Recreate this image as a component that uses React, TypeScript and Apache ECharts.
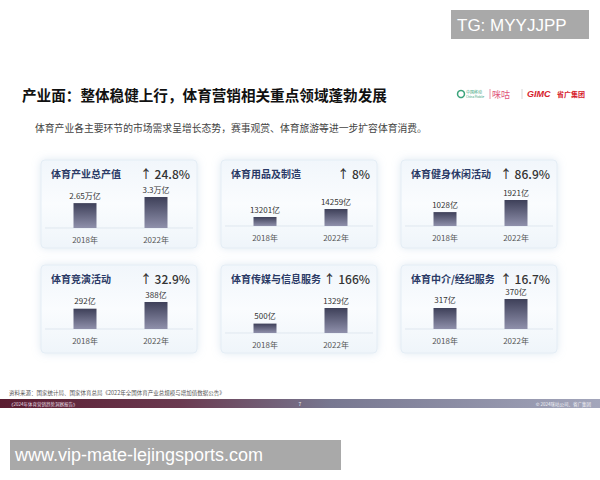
import React, { useEffect, useRef } from "react";
import * as echarts from "echarts";

const panelTitles = ["体育产业总产值", "体育用品及制造", "体育健身休闲活动", "体育竞演活动", "体育传媒与信息服务", "体育中介/经纪服务"];
const growthLabels = ["↑ 24.8%", "↑ 8%", "↑ 86.9%", "↑ 32.9%", "↑ 166%", "↑ 16.7%"];
const years = ["2018年", "2022年"];
const values2018 = [2.65, 13201, 1028, 292, 500, 317];
const values2022 = [3.3, 14259, 1921, 388, 1329, 370];
const units = ["万亿", "亿", "亿", "亿", "亿", "亿"];
const axisMin = [0, 12011, 0, 0, 0, 193];

const CJK = '"Noto Sans CJK SC", "Noto Sans", sans-serif';

export default function App() {
  const ref = useRef<HTMLDivElement>(null);
  useEffect(() => {
    document.body.style.margin = "0";
    const chart = echarts.init(ref.current!, null, { renderer: "svg" });
    const cardLeft = [41, 221, 401, 41, 221, 401];
    const cardTop = [160, 160, 160, 265, 265, 265];
    const baseline = [228, 226, 226, 329, 333, 329];
    const barH = [31, 17, 26, 27, 25, 30];
    const cardW = 156;
    const cardH = 88;

    const grids: any[] = [];
    const xAxes: any[] = [];
    const yAxes: any[] = [];
    const series: any[] = [];
    const graphics: any[] = [];

    for (let i = 0; i < 6; i++) {
      graphics.push({
        type: "rect",
        z: -10,
        shape: { x: cardLeft[i], y: cardTop[i], width: cardW, height: cardH, r: 4 },
        style: {
          fill: new echarts.graphic.LinearGradient(0, 0, 0, 1, [
            { offset: 0, color: "#f1f6fb" },
            { offset: 0.5, color: "#fafcfe" },
            { offset: 1, color: "#eff5fa" },
          ]),
          stroke: "#e4edf5",
          lineWidth: 1,
          shadowBlur: 8,
          shadowColor: "rgba(160,190,215,0.35)",
        },
      });
      graphics.push({
        type: "text",
        x: cardLeft[i] + 10,
        y: cardTop[i] + 13,
        style: { text: panelTitles[i], fill: "#2a3a66", font: `bold 10px ${CJK}`, textVerticalAlign: "middle" },
      });
      graphics.push({
        type: "text",
        x: cardLeft[i] + cardW - 7,
        y: cardTop[i] + 13,
        style: { text: growthLabels[i], fill: "#333", font: `500 12px ${CJK}`, textAlign: "right", textVerticalAlign: "middle" },
      });
      graphics.push({
        type: "line",
        shape: { x1: cardLeft[i] + 4, y1: baseline[i], x2: cardLeft[i] + cardW - 4, y2: baseline[i] },
        style: { stroke: "#dfe7ef", lineWidth: 1 },
      });

      grids.push({ left: cardLeft[i] + 8.5, width: 142, top: baseline[i] - barH[i], height: barH[i] });
      xAxes.push({
        type: "category",
        gridIndex: i,
        data: years,
        axisLine: { show: false },
        axisTick: { show: false },
        axisLabel: { color: "#555", fontSize: 8, margin: 7, fontFamily: CJK },
      });
      yAxes.push({ type: "value", gridIndex: i, min: axisMin[i], max: values2022[i], show: false });
      const u = units[i];
      series.push({
        type: "bar",
        xAxisIndex: i,
        yAxisIndex: i,
        barWidth: 23,
        data: [values2018[i], values2022[i]],
        itemStyle: {
          color: new echarts.graphic.LinearGradient(0, 0, 0, 1, [
            { offset: 0, color: "#3e4059" },
            { offset: 1, color: "#8f90ab" },
          ]),
        },
        label: {
          show: true,
          position: "top",
          distance: 4,
          color: "#333",
          fontSize: 8,
          fontFamily: CJK,
          formatter: (p: any) => `${p.value}${u}`,
        },
      });
    }

    graphics.push(
      { type: "rect", shape: { x: 451, y: 10, width: 138, height: 29 }, style: { fill: "#a9a9a9" } },
      { type: "text", x: 457, y: 25, style: { text: "TG: MYYJJPP", fill: "#fff", font: `17px "Liberation Sans", Arial, sans-serif`, textVerticalAlign: "middle" } },
      { type: "text", x: 22, y: 94, style: { text: "产业面：整体稳健上行，体育营销相关重点领域蓬勃发展", fill: "#111", font: `bold 14.6px ${CJK}`, textVerticalAlign: "middle" } },
      { type: "text", x: 35, y: 128, style: { text: "体育产业各主要环节的市场需求呈增长态势，赛事观赏、体育旅游等进一步扩容体育消费。", fill: "#444", font: `9.8px ${CJK}`, textVerticalAlign: "middle" } },
      { type: "circle", shape: { cx: 461, cy: 94, r: 3.5 }, style: { fill: "#fff", stroke: "#3aa37a", lineWidth: 1.5 } },
      { type: "text", x: 466, y: 92, style: { text: "中国移动", fill: "#3aa37a", font: `4px ${CJK}`, textVerticalAlign: "middle" } },
      { type: "text", x: 466, y: 97, style: { text: "China Mobile", fill: "#3aa37a", font: `3px ${CJK}`, textVerticalAlign: "middle" } },
      { type: "line", shape: { x1: 490, y1: 89, x2: 490, y2: 99 }, style: { stroke: "#e07a90", lineWidth: 0.8 } },
      { type: "text", x: 492, y: 94, style: { text: "咪咕", fill: "#e0557a", font: `9px ${CJK}`, textVerticalAlign: "middle" } },
      { type: "line", shape: { x1: 522, y1: 89, x2: 522, y2: 99 }, style: { stroke: "#cccccc", lineWidth: 0.8 } },
      { type: "text", x: 527, y: 94, style: { text: "GIMC", fill: "#d6202a", font: `italic bold 9px "Liberation Sans", sans-serif`, textVerticalAlign: "middle" } },
      { type: "text", x: 557, y: 94, style: { text: "省广集团", fill: "#d6202a", font: `bold 7px ${CJK}`, textVerticalAlign: "middle" } },
      { type: "text", x: 9, y: 393, style: { text: "资料来源：国家统计局、国家体育总局《2022年全国体育产业总规模与增加值数据公告》", fill: "#555", font: `5.5px ${CJK}`, textVerticalAlign: "middle" } },
      {
        type: "rect",
        shape: { x: 0, y: 399, width: 600, height: 9 },
        style: {
          fill: new echarts.graphic.LinearGradient(0, 0, 1, 0, [
            { offset: 0, color: "#5a1c30" },
            { offset: 0.3, color: "#6a3a50" },
            { offset: 0.55, color: "#777790" },
            { offset: 1, color: "#a3a6bb" },
          ]),
        },
      },
      { type: "text", x: 9, y: 403.5, style: { text: "《2024年体育营销趋势洞察报告》", fill: "#e8dde2", font: `4.5px ${CJK}`, textVerticalAlign: "middle" } },
      { type: "text", x: 300, y: 403.5, style: { text: "7", fill: "#eeeeee", font: `5px ${CJK}`, textAlign: "center", textVerticalAlign: "middle" } },
      { type: "text", x: 591, y: 403.5, style: { text: "© 2024咪咕公司、省广集团", fill: "#f2f2f6", font: `4.5px ${CJK}`, textAlign: "right", textVerticalAlign: "middle" } },
      { type: "rect", shape: { x: 10, y: 440, width: 331, height: 30 }, style: { fill: "#a9a9a9" } },
      { type: "text", x: 15, y: 455, style: { text: "www.vip-mate-lejingsports.com", fill: "#fff", font: `18px "Liberation Sans", Arial, sans-serif`, textVerticalAlign: "middle" } }
    );

    chart.setOption({
      animation: false,
      backgroundColor: "#ffffff",
      grid: grids,
      xAxis: xAxes,
      yAxis: yAxes,
      series,
      graphic: graphics,
    });
    return () => chart.dispose();
  }, []);
  return <div ref={ref} style={{ position: "fixed", left: 0, top: 0, width: 600, height: 480 }} />;
}
